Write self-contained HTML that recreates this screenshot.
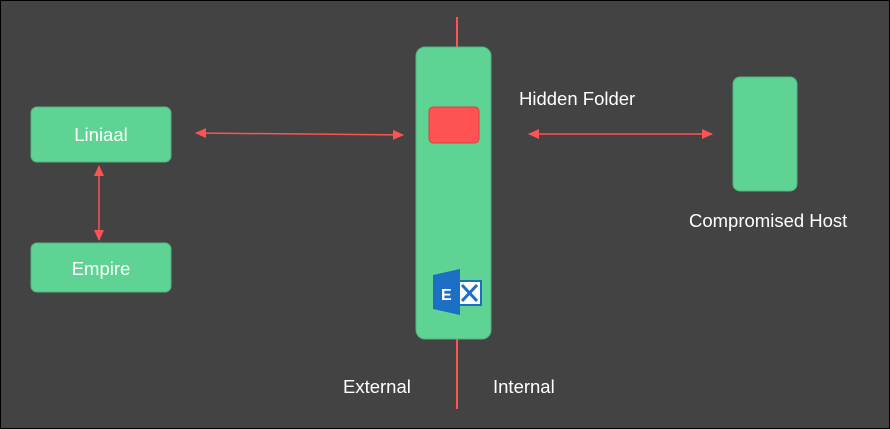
<!DOCTYPE html>
<html><head><style>
body{margin:0;background:#000}
svg{display:block}
text{font-family:"Liberation Sans",sans-serif;fill:#fff;font-size:18.5px}
</style></head><body>
<svg width="890" height="429" viewBox="0 0 890 429">
<defs>
<marker id="a" markerWidth="12" markerHeight="12" refX="10" refY="5" orient="auto-start-reverse" markerUnits="userSpaceOnUse"><path d="M0,0 L11,5 L0,10 z" fill="#ff5252"/></marker>
</defs>
<rect x="1" y="1" width="888" height="427" fill="#434343"/>
<line x1="457" y1="17" x2="457" y2="47" stroke="#ff5252" stroke-width="2"/>
<line x1="457" y1="339" x2="457" y2="409" stroke="#ff5252" stroke-width="2"/>
<rect x="31" y="107" width="140" height="55" rx="6" fill="#5fd394" stroke="#52b47f"/>
<text x="101" y="141" text-anchor="middle">Liniaal</text>
<rect x="31" y="243" width="140" height="49" rx="6" fill="#5fd394" stroke="#52b47f"/>
<text x="101" y="275" text-anchor="middle">Empire</text>
<rect x="416" y="47" width="75" height="292" rx="9" fill="#5fd394" stroke="#52b47f"/>
<rect x="429" y="107" width="50" height="36" rx="4" fill="#ff5252" stroke="#d04545"/>
<rect x="733" y="77" width="64" height="114" rx="7" fill="#5fd394" stroke="#52b47f"/>
<line x1="196" y1="133" x2="403" y2="135" stroke="#ff5252" stroke-width="1.5" marker-start="url(#a)" marker-end="url(#a)"/>
<line x1="529" y1="134" x2="712" y2="134" stroke="#ff5252" stroke-width="1.5" marker-start="url(#a)" marker-end="url(#a)"/>
<line x1="99" y1="166" x2="99" y2="240" stroke="#ff5252" stroke-width="1.5" marker-start="url(#a)" marker-end="url(#a)"/>
<text x="519" y="105">Hidden Folder</text>
<text x="689" y="227">Compromised Host</text>
<text x="343" y="393">External</text>
<text x="493" y="393">Internal</text>
<rect x="457" y="280" width="25" height="26" fill="#1d6fc4"/>
<rect x="459" y="282" width="21" height="22" fill="#fff"/>
<path d="M462,285 L477,301 M477,285 L462,301" stroke="#1d6fc4" stroke-width="3"/>
<path d="M433,275 L460,269 L460,315 L433,309 z" fill="#1d6fc4"/>
<text x="441" y="300" style="font-size:16px;font-weight:bold">E</text>
</svg>
</body></html>
